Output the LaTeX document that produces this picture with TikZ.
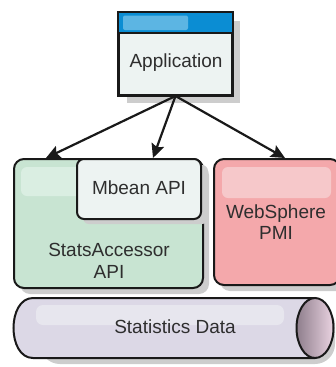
\documentclass[tikz,border=0pt]{standalone}
\usepackage{fontspec}
\setmainfont{Liberation Sans}
\usetikzlibrary{arrows.meta,shapes.geometric}
\definecolor{txt}{HTML}{2E2E2E}
\definecolor{shadowc}{HTML}{CDCDCD}
\definecolor{appbody}{HTML}{EDF3F2}
\definecolor{titlebar}{HTML}{0B8DD3}
\definecolor{titlehl}{HTML}{5CB5E3}
\definecolor{greenf}{HTML}{C8E4D2}
\definecolor{greenhl}{HTML}{DAEEE2}
\definecolor{pinkf}{HTML}{F4A8AB}
\definecolor{pinkhl}{HTML}{F6C8CA}
\definecolor{cylf}{HTML}{DCD8E6}
\definecolor{cylhl}{HTML}{E7E6EE}
\definecolor{capdark}{HTML}{8E7E8C}
\definecolor{caplight}{HTML}{EAD3E1}
\tikzset{
  box/.style={draw=black!90, line width=2pt, inner sep=0pt},
  lbl/.style={text=txt, font=\fontsize{19}{21.5}\selectfont, align=center, inner sep=0pt},
  arr/.style={draw=black!90, line width=2.2pt, -{Stealth[length=14pt,width=13pt,inset=2.5pt]}},
  shd/.style={fill=shadowc},
}
\begin{document}
\begin{tikzpicture}[x=1pt,y=-1pt]
\useasboundingbox (0,0) rectangle (335,367);
% shadows
\fill[shd] (127,21) rectangle (240,103);
\fill[shd, rounded corners=10pt] (20,165) rectangle (209,294);
\fill[shd, rounded corners=10pt] (220,165) rectangle (346,291);
\fill[shd, rounded corners=20pt] (40,305) rectangle (335,364);
% application window
\node[box, fill=appbody, minimum width=113, minimum height=82] (app) at (175.5,54) {};
\fill[titlebar] (119,13) rectangle (232,33);
\fill[titlehl, rounded corners=2pt] (123,15.5) rectangle (188,30);
\draw[black!90, line width=2pt] (119,33) -- (232,33);
\draw[black!90, line width=2pt] (app.north west) rectangle (app.south east);
\node[lbl] (applbl) at (176,63) {Application};
% green box
\node[box, fill=greenf, rounded corners=10pt, minimum width=189, minimum height=129] (green) at (108.5,223.5) {};
\fill[greenhl, rounded corners=6pt] (21,167) rectangle (90,196);
% mbean shadow and box
\fill[shd, rounded corners=6pt] (83,165) rectangle (208,224);
\node[box, fill=appbody, rounded corners=7pt, minimum width=124, minimum height=60] (mbean) at (139,189) {};
\node[lbl] (mbeanlbl) at (139,188) {Mbean API};
\node[lbl] (greenlbl) at (109,261) {StatsAccessor\\API};
% pink box
\node[box, fill=pinkf, rounded corners=10pt, minimum width=126, minimum height=126] (pink) at (277,222) {};
\fill[pinkhl, rounded corners=6pt] (222,167) rectangle (331,198);
\node[lbl] (pinklbl) at (276,222) {WebSphere\\PMI};
% cylinder
\path[fill=cylf] (315,298) -- (33,298) .. controls (7,298) and (7,358) .. (33,358) -- (315,358) -- cycle;
\fill[cylhl, rounded corners=7pt] (36,305) rectangle (284,325);
\draw[black!90, line width=2pt] (315,298) -- (33,298) .. controls (7,298) and (7,358) .. (33,358) -- (315,358);
\node[draw=black!90, line width=2pt, ellipse, left color=capdark, right color=caplight, minimum width=37, minimum height=60, inner sep=0pt] (cap) at (315,328) {};
\node[lbl] (cyllbl) at (175,327) {Statistics Data};
% arrows
\draw[arr] (app.south) -- ([xshift=33pt]green.north west);
\draw[arr] (app.south) -- ([xshift=14pt]mbean.north);
\draw[arr] (app.south) -- ([xshift=8pt]pink.north);
\end{tikzpicture}
\end{document}
